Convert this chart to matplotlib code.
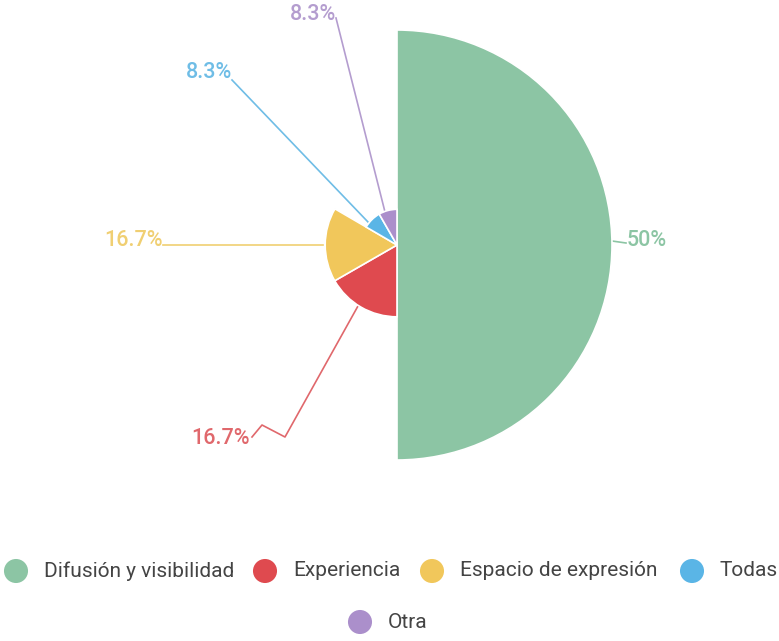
import matplotlib.pyplot as plt
from matplotlib.patches import Wedge

plt.rcParams["font.family"] = ["Roboto", "DejaVu Sans"]

categories = ["Difusión y visibilidad", "Experiencia", "Espacio de expresión", "Todas", "Otra"]
values = [50.0, 16.7, 16.7, 8.3, 8.3]
colors = ["#8cc5a4", "#df4a4f", "#f1c75b", "#5ab5e6", "#ab8fcb"]
label_colors = ["#8cc5a4", "#e0686c", "#f0cf72", "#6fbde6", "#b49dcf"]

W, H = 779, 641
cx, cy = 397, 245          # pie centre, pixels from top-left
r_max = 215                # radius of the largest slice


def py(y):
    return H - y


fig = plt.figure(figsize=(W / 100, H / 100), dpi=100)
ax = fig.add_axes([0, 0, 1, 1])
ax.set_xlim(0, W)
ax.set_ylim(0, H)
ax.set_aspect("equal")
ax.axis("off")

total = sum(values)
vmax = max(values)
cum = 0.0
for val, col in zip(values, colors):
    span = val / total * 360
    t2 = 90 - cum
    t1 = t2 - span
    r = val / vmax * r_max
    ax.add_patch(Wedge((cx, py(cy)), r, t1, t2, facecolor=col,
                       edgecolor="white", linewidth=1.2))
    cum += span

# label leader lines (pixel coords) and label anchors
leaders = [
    [(612, 241), (626, 243)],
    [(358, 306), (285, 437), (262, 425), (252, 437)],
    [(323, 245), (163, 245)],
    [(368, 222), (232, 80)],
    [(385, 212), (336, 18)],
]
label_pos = [(627, 241, "left"), (250, 439, "right"), (163, 240, "right"),
             (232, 73, "right"), (336, 14, "right")]

for val, lc, line, (lx, ly, ha) in zip(values, label_colors, leaders, label_pos):
    xs = [p[0] for p in line]
    ys = [py(p[1]) for p in line]
    ax.plot(xs, ys, color=lc, linewidth=1.2, zorder=0)
    txt = f"{val:g}%"
    ax.text(lx, py(ly), txt, color=lc, fontsize=15.5, ha=ha, va="center",
            fontweight="medium")

# legend
legend_pos = [(16, 571), (265, 571), (432, 571), (692, 571), (360, 622)]
for name, col, (lx, ly) in zip(categories, colors, legend_pos):
    ax.scatter([lx], [py(ly)], s=300, color=col, edgecolors="none")
    ax.text(lx + 28, py(ly), name, fontsize=15, color="#444444",
            ha="left", va="center")

plt.savefig("out.png", dpi=100)
